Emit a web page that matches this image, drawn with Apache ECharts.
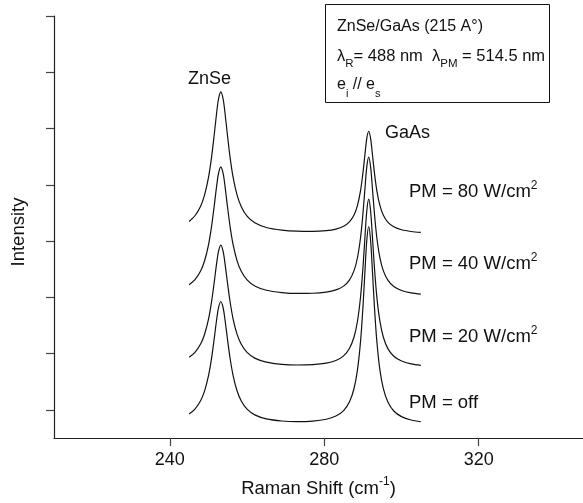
<!DOCTYPE html>
<html>
<head>
<meta charset="utf-8">
<script src="https://cdn.jsdelivr.net/npm/echarts@6/dist/echarts.min.js"></script>
<style>
  html, body { margin: 0; padding: 0; background: #fff; }
  #chart { width: 583px; height: 503px; }
</style>
</head>
<body>
<div id="chart"></div>
<script>
// Raman shift sample positions (cm^-1), shared by all four spectra
const ramanShift = [245, 246.5, 248, 249, 250, 250.8, 251.5, 252.1, 252.6, 253.2, 253.8, 254.3, 254.9, 255.6, 256.4, 257.4, 258.5, 260, 262, 265, 269, 273, 277, 280.5, 283, 285, 286.5, 287.7, 288.6, 289.4, 290, 290.5, 291, 291.5, 292, 292.5, 293, 293.6, 294.4, 295.3, 296.5, 298, 300, 302.5, 305];

// Intensity (arb. units, spectra offset vertically)
const pm80 = [3.849, 3.950, 4.125, 4.320, 4.626, 4.987, 5.394, 5.768, 6.025, 6.153, 6.025, 5.768, 5.394, 4.988, 4.627, 4.322, 4.112, 3.944, 3.825, 3.741, 3.694, 3.675, 3.672, 3.685, 3.713, 3.762, 3.840, 3.964, 4.136, 4.401, 4.705, 5.022, 5.321, 5.452, 5.321, 5.021, 4.703, 4.398, 4.133, 3.959, 3.833, 3.754, 3.701, 3.670, 3.653];
const pm40 = [2.722, 2.814, 2.973, 3.151, 3.429, 3.757, 4.127, 4.467, 4.700, 4.817, 4.701, 4.468, 4.128, 3.758, 3.431, 3.153, 2.962, 2.810, 2.702, 2.626, 2.585, 2.570, 2.573, 2.593, 2.632, 2.699, 2.806, 2.974, 3.208, 3.567, 3.979, 4.408, 4.814, 4.991, 4.813, 4.407, 3.977, 3.564, 3.205, 2.970, 2.800, 2.692, 2.621, 2.579, 2.557];
const pm20 = [1.437, 1.523, 1.675, 1.844, 2.108, 2.420, 2.771, 3.094, 3.316, 3.428, 3.317, 3.095, 2.773, 2.422, 2.110, 1.847, 1.666, 1.521, 1.419, 1.347, 1.309, 1.297, 1.304, 1.330, 1.378, 1.460, 1.590, 1.795, 2.079, 2.515, 3.016, 3.538, 4.031, 4.246, 4.030, 3.537, 3.014, 2.513, 2.076, 1.791, 1.584, 1.453, 1.368, 1.316, 1.290];
const pmOff = [0.428, 0.515, 0.667, 0.837, 1.102, 1.415, 1.768, 2.092, 2.314, 2.426, 2.315, 2.093, 1.769, 1.417, 1.104, 0.840, 0.658, 0.513, 0.411, 0.339, 0.302, 0.292, 0.301, 0.333, 0.390, 0.487, 0.639, 0.880, 1.214, 1.726, 2.314, 2.927, 3.506, 3.759, 3.505, 2.926, 2.313, 1.724, 1.211, 0.876, 0.634, 0.480, 0.380, 0.320, 0.289];

const seriesNames = ['PM = 80', 'PM = 40', 'PM = 20', 'PM = off'];
const seriesValues = [pm80, pm40, pm20, pmOff];

// Axis ticks
const xTicks = [240, 280, 320];
const yTicks = [0.5, 1.5, 2.5, 3.5, 4.5, 5.5, 6.5, 7.5];

const FONT = '"Liberation Sans", Arial, Helvetica, sans-serif';
const INK = '#111';

const chart = echarts.init(document.getElementById('chart'), null, { renderer: 'canvas' });

function pairs(values) {
  return ramanShift.map((x, i) => [x, values[i]]);
}

// label with a superscript unit exponent
function powerLabel(left, top, text) {
  return {
    type: 'text', left: left, top: top,
    style: {
      text: '{b|' + text + '}{s|2}', fill: INK,
      rich: {
        b: { font: '18.5px ' + FONT, fill: INK, lineHeight: 22, verticalAlign: 'bottom' },
        s: { font: '12px ' + FONT, fill: INK, lineHeight: 22, verticalAlign: 'top', padding: [1, 0, 0, 0] }
      }
    }
  };
}

const boxRich = {
  t: { font: '16px ' + FONT, fill: INK, lineHeight: 20, verticalAlign: 'top' },
  sub: { font: '11px ' + FONT, fill: INK, lineHeight: 20, verticalAlign: 'bottom', padding: [0, 0, -2, 0] }
};
const waveRich = {
  t: { font: '16.5px ' + FONT, fill: INK, lineHeight: 20, verticalAlign: 'top' },
  sub: { font: '11.5px ' + FONT, fill: INK, lineHeight: 20, verticalAlign: 'bottom', padding: [0, 0, -2, 0] }
};

const annotations = [
  // peak labels
  { type: 'text', left: 188, top: 70, style: { text: 'ZnSe', font: '18px ' + FONT, fill: INK } },
  { type: 'text', left: 385, top: 124, style: { text: 'GaAs', font: '18px ' + FONT, fill: INK } },
  // power density labels
  powerLabel(409, 179, 'PM = 80 W/cm'),
  powerLabel(409, 251, 'PM = 40 W/cm'),
  powerLabel(409, 324, 'PM = 20 W/cm'),
  { type: 'text', left: 409, top: 393, style: { text: 'PM = off', font: '18.5px ' + FONT, fill: INK } },
  // y axis title
  { type: 'text', x: 19, y: 232, rotation: Math.PI / 2,
    style: { text: 'Intensity', font: '18.5px ' + FONT, fill: INK, align: 'center', verticalAlign: 'middle' } },
  // conditions box
  { type: 'rect', shape: { x: 325.5, y: 4.5, width: 224, height: 98 }, style: { fill: '#fff', stroke: INK, lineWidth: 1 } },
  { type: 'text', left: 337, top: 19, style: { text: 'ZnSe/GaAs (215 A°)', font: '16px ' + FONT, fill: INK } },
  { type: 'text', left: 337, top: 48, style: {
      text: '{t|λ}{sub|R}{t|= 488 nm  λ}{sub|PM}{t| = 514.5 nm}', fill: INK, rich: waveRich } },
  { type: 'text', left: 337, top: 77, style: {
      text: '{t|e}{sub|i}{t| // e}{sub|s}', fill: INK, rich: boxRich } }
];

chart.setOption({
  animation: false,
  backgroundColor: '#fff',
  grid: { left: 54, right: 0, top: 16, bottom: 64, containLabel: false },
  xAxis: {
    type: 'value',
    min: 210,
    max: 347,
    name: '{b|Raman Shift (cm}{s|-1}{b|)}',
    nameLocation: 'middle',
    nameGap: 38,
    nameTextStyle: {
      rich: {
        b: { fontFamily: FONT, fontSize: 18.5, color: INK, lineHeight: 22, verticalAlign: 'bottom' },
        s: { fontFamily: FONT, fontSize: 12, color: INK, lineHeight: 22, verticalAlign: 'top' }
      }
    },
    axisLine: { show: true, onZero: false, lineStyle: { color: '#222', width: 1.2 } },
    axisTick: { show: true, inside: false, length: 8, customValues: xTicks, lineStyle: { color: '#444', width: 1.2 } },
    axisLabel: { show: true, customValues: xTicks, margin: 13, fontFamily: FONT, fontSize: 18, color: INK },
    splitLine: { show: false }
  },
  yAxis: {
    type: 'value',
    min: 0,
    max: 7.5,
    axisLine: { show: true, onZero: false, lineStyle: { color: '#222', width: 1.2 } },
    axisTick: { show: true, inside: false, length: 8, customValues: yTicks, lineStyle: { color: '#444', width: 1.2 } },
    axisLabel: { show: false },
    splitLine: { show: false }
  },
  series: seriesNames.map((name, i) => ({
    name: name,
    type: 'line',
    data: pairs(seriesValues[i]),
    showSymbol: false,
    smooth: 0.3,
    lineStyle: { color: '#111', width: 1.2 }
  })),
  graphic: annotations
});
</script>
</body>
</html>
